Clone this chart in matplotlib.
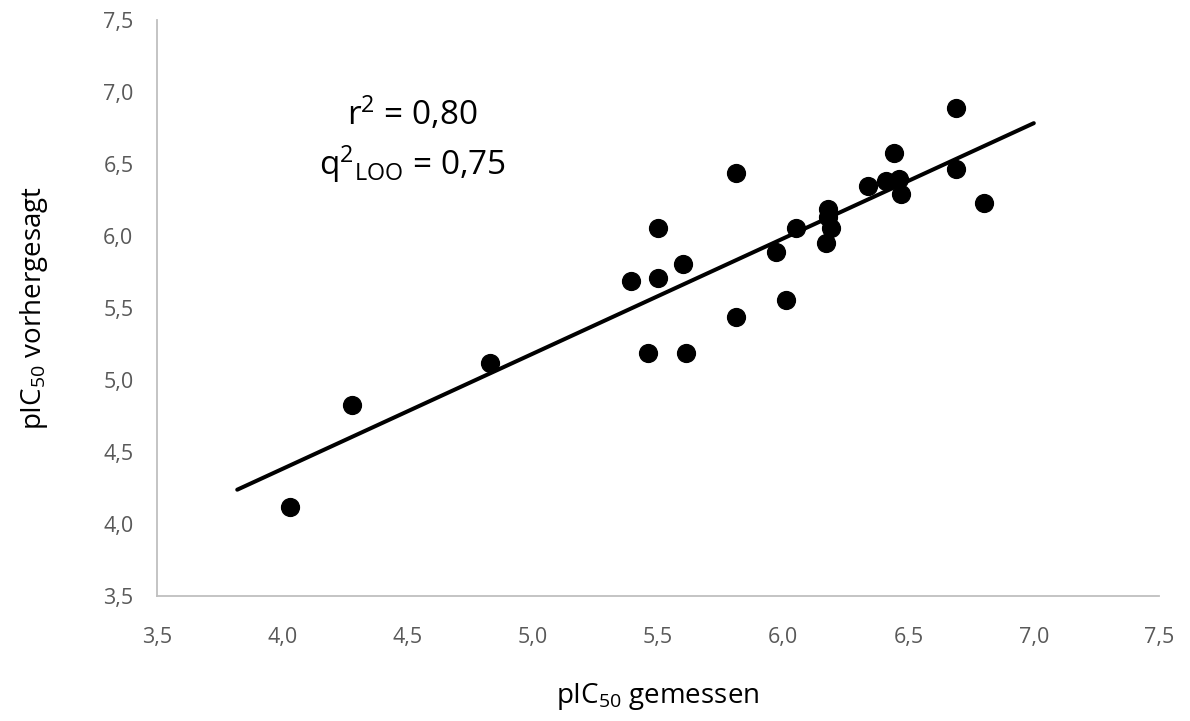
"""
pIC50 vorhergesagt vs gemessen (Excel-Stil Streudiagramm).
"""

import matplotlib
matplotlib.use('Agg')
import matplotlib.pyplot as plt

# Messwerte / Vorhersagen
gemessen = [4.03, 4.28, 4.83, 5.39, 5.46, 5.50, 5.50, 5.60, 5.61, 5.81, 5.81,
            5.97, 6.01, 6.05, 6.17, 6.18, 6.18, 6.19, 6.34, 6.41, 6.44, 6.46,
            6.47, 6.69, 6.69, 6.80]
vorhergesagt = [4.12, 4.83, 5.12, 5.69, 5.19, 6.06, 5.71, 5.81, 5.19, 5.44, 6.44,
                5.89, 5.56, 6.06, 5.95, 6.19, 6.13, 6.06, 6.35, 6.38, 6.58, 6.40,
                6.29, 6.89, 6.47, 6.23]

# Trendlinie (Endpunkte)
trend_x = [3.82, 7.0]
trend_y = [4.24, 6.785]

ticks = [3.5, 4.0, 4.5, 5.0, 5.5, 6.0, 6.5, 7.0, 7.5]
tick_labels = ['3,5', '4,0', '4,5', '5,0', '5,5', '6,0', '6,5', '7,0', '7,5']

plt.rcParams['font.family'] = ['Open Sans', 'DejaVu Sans']
plt.rcParams['mathtext.fontset'] = 'custom'
plt.rcParams['mathtext.rm'] = 'Open Sans'
plt.rcParams['mathtext.default'] = 'regular'

fig = plt.figure(figsize=(11.9, 7.21), dpi=100)
ax = fig.add_axes([0.132, 0.173, 0.842, 0.799])

ax.plot(trend_x, trend_y, color='black', linewidth=2.9, solid_capstyle='round', zorder=2)
ax.scatter(gemessen, vorhergesagt, s=165, color='black', zorder=3)

ax.set_xlim(3.5, 7.5)
ax.set_ylim(3.5, 7.5)
ax.set_xticks(ticks)
ax.set_xticklabels(tick_labels)
ax.set_yticks(ticks)
ax.set_yticklabels(tick_labels)
ax.tick_params(length=0, labelsize=15.5, labelcolor='#595959')
ax.tick_params(axis='x', pad=22)
ax.tick_params(axis='y', pad=17)

for side in ['top', 'right']:
    ax.spines[side].set_visible(False)
for side in ['left', 'bottom']:
    ax.spines[side].set_color('#BFBFBF')
    ax.spines[side].set_linewidth(1.3)

ax.set_xlabel(r'pIC$_{50}$ gemessen', fontsize=20, labelpad=24)
ax.set_ylabel(r'pIC$_{50}$ vorhergesagt', fontsize=20, labelpad=38)

ax.text(4.52, 6.85, r'r$^{2}$ = 0,80', fontsize=24, ha='center', va='center')
ax.text(4.52, 6.5, r'q$^{2}$$_{LOO}$ = 0,75', fontsize=24, ha='center', va='center')

plt.savefig('out.png', dpi=100)
plt.close(fig)
